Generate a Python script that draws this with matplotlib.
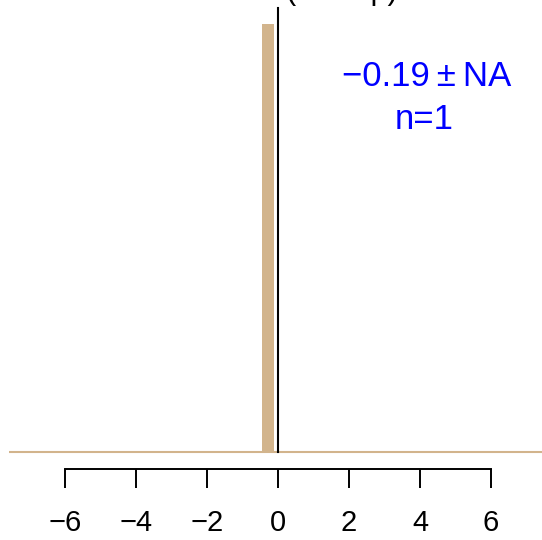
import matplotlib
matplotlib.use("Agg")
import matplotlib.pyplot as plt

# histogram bin edges and counts
bin_left = [-0.45]
bin_right = [-0.1]
counts = [1]

mean_txt = "\u22120.19\u2009\u00b1\u2009NA"
n_txt = "n=1"
xticks = [-6, -4, -2, 0, 2, 4, 6]
xtick_labels = ["\u22126", "\u22124", "\u22122", "0", "2", "4", "6"]

plt.rcParams["font.family"] = ["Liberation Sans", "DejaVu Sans"]

W, H = 542, 540
fig = plt.figure(figsize=(W / 100, H / 100), dpi=100)
ax = fig.add_axes([9 / W, 71 / H, 1 - 9 / W, 469 / H])
ax.set_xlim(-7.577, 7.437)
ax.set_ylim(-0.0397, 1.056)

widths = [r - l for l, r in zip(bin_left, bin_right)]
ax.bar(bin_left, counts, width=widths, align="edge", color="#D2B48C",
       edgecolor="none", zorder=2)
ax.axhline(0, color="#D2B48C", lw=1.5, zorder=1)
ax.plot([0, 0], [0, 1.037], color="black", lw=1.5, zorder=3)

ax.text(4.18, 0.877, mean_txt, color="#0000FF", fontsize=25,
        ha="center", va="center")
ax.text(4.12, 0.777, n_txt, color="#0000FF", fontsize=25,
        ha="center", va="center")

for s in ("top", "right", "left"):
    ax.spines[s].set_visible(False)
ax.spines["bottom"].set_bounds(-6, 6)
ax.spines["bottom"].set_linewidth(1.4)
ax.set_xticks(xticks)
ax.set_xticklabels(xtick_labels, fontsize=21)
ax.tick_params(axis="x", direction="out", length=14, width=1.4, pad=15)
ax.set_yticks([])
ax.patch.set_visible(False)

# title sits above the visible area; only its descenders show
fig.text(342 / W, 1 + 1 / H, "(delta p)", fontsize=22, ha="center",
         va="baseline")

fig.savefig("out.png", dpi=100)
